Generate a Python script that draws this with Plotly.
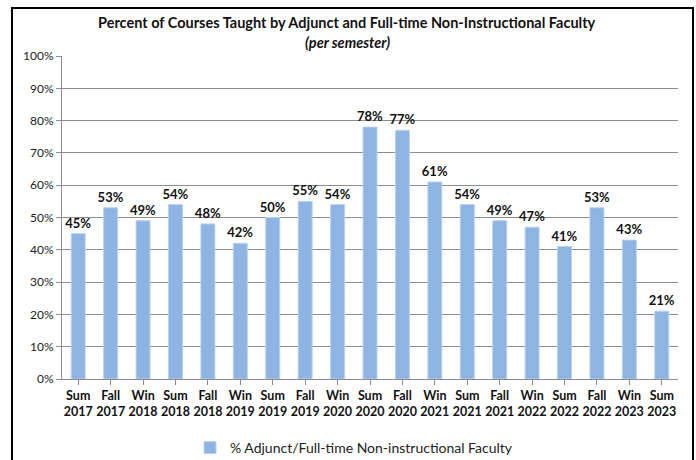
import plotly.graph_objects as go

# Semester labels (term + year) and share of courses taught by adjunct / full-time non-instructional faculty
terms = ["Sum", "Fall", "Win", "Sum", "Fall", "Win", "Sum", "Fall", "Win", "Sum",
         "Fall", "Win", "Sum", "Fall", "Win", "Sum", "Fall", "Win", "Sum"]
years = ["2017", "2017", "2018", "2018", "2018", "2019", "2019", "2019", "2020", "2020",
         "2020", "2021", "2021", "2021", "2022", "2022", "2022", "2023", "2023"]
pct_adjunct = [0.45, 0.53, 0.49, 0.54, 0.48, 0.42, 0.50, 0.55, 0.54, 0.78,
               0.77, 0.61, 0.54, 0.49, 0.47, 0.41, 0.53, 0.43, 0.21]
y_ticks = [0, 0.1, 0.2, 0.3, 0.4, 0.5, 0.6, 0.7, 0.8, 0.9, 1.0]

series_name = "% Adjunct/Full-time Non-instructional Faculty"
categories = [f"{t}<br>{y}" for t, y in zip(terms, years)]
positions = list(range(len(categories)))

FONT = "Lato, Calibri, 'Open Sans', sans-serif"
GRID = "#8c8c8c"

fig = go.Figure()
fig.add_trace(go.Bar(
    x=positions,
    y=pct_adjunct,
    name=series_name,
    marker=dict(color="#8EB4E3", line=dict(color="#B9D0EE", width=1)),
    text=[f"{v:.0%}" for v in pct_adjunct],
    textposition="outside",
    constraintext="none",
    textfont=dict(family=FONT, size=13, color="#111111", weight="bold"),
    cliponaxis=False,
    showlegend=True,
))

W, H = 696, 460
L, R, T, B = 62, 18, 56, 81
pw, ph = W - L - R, H - T - B


def px_x(px):
    return (px - L) / pw


def px_y(py):
    return (H - B - py) / ph


fig.update_layout(
    width=W, height=H,
    margin=dict(l=L, r=R, t=T, b=B, autoexpand=False),
    paper_bgcolor="white",
    plot_bgcolor="white",
    bargap=0.57,
    font=dict(family=FONT, color="#222222"),
    showlegend=True,
    legend=dict(
        orientation="h",
        x=px_x(190), xanchor="left",
        y=px_y(448), yanchor="middle",
        itemwidth=30,
        font=dict(family=FONT, size=14, color="#222222"),
        bgcolor="rgba(0,0,0,0)",
    ),
)

fig.update_xaxes(
    range=[-0.5, len(categories) - 0.5],
    tickmode="array",
    tickvals=positions,
    ticktext=categories,
    tickfont=dict(family=FONT, size=12.5, color="#111111", weight="bold"),
    showgrid=False,
    showline=True, linecolor=GRID, linewidth=1,
    ticks="outside", ticklen=5, tickcolor=GRID,
    tickson="boundaries",
    automargin=False,
    fixedrange=True,
)
fig.update_yaxes(
    range=[0, 1.0],
    tickmode="array",
    tickvals=y_ticks,
    tickformat=".0%",
    tickfont=dict(family=FONT, size=12, color="#222222"),
    showgrid=True, gridcolor=GRID, gridwidth=1,
    showline=True, linecolor=GRID, linewidth=1,
    ticks="outside", ticklen=5, tickcolor=GRID,
    zeroline=False,
    automargin=False,
    fixedrange=True,
)

# Title block
fig.add_annotation(
    text="<b>Percent of Courses Taught by Adjunct and Full-time Non-Instructional Faculty</b>",
    xref="paper", yref="paper", x=px_x(347), y=px_y(23),
    xanchor="center", yanchor="middle", showarrow=False,
    font=dict(family=FONT, size=14.5, color="#111111"),
)
fig.add_annotation(
    text="<b><i>(per semester)</i></b>",
    xref="paper", yref="paper", x=px_x(347), y=px_y(43),
    xanchor="center", yanchor="middle", showarrow=False,
    font=dict(family=FONT, size=14.5, color="#111111"),
)

# Chart frame
fig.add_shape(
    type="rect", xref="paper", yref="paper",
    x0=px_x(12), x1=px_x(693), y0=px_y(475), y1=px_y(8),
    line=dict(color="#000000", width=2), fillcolor="rgba(0,0,0,0)",
    layer="below",
)

fig.write_html("out.html")
